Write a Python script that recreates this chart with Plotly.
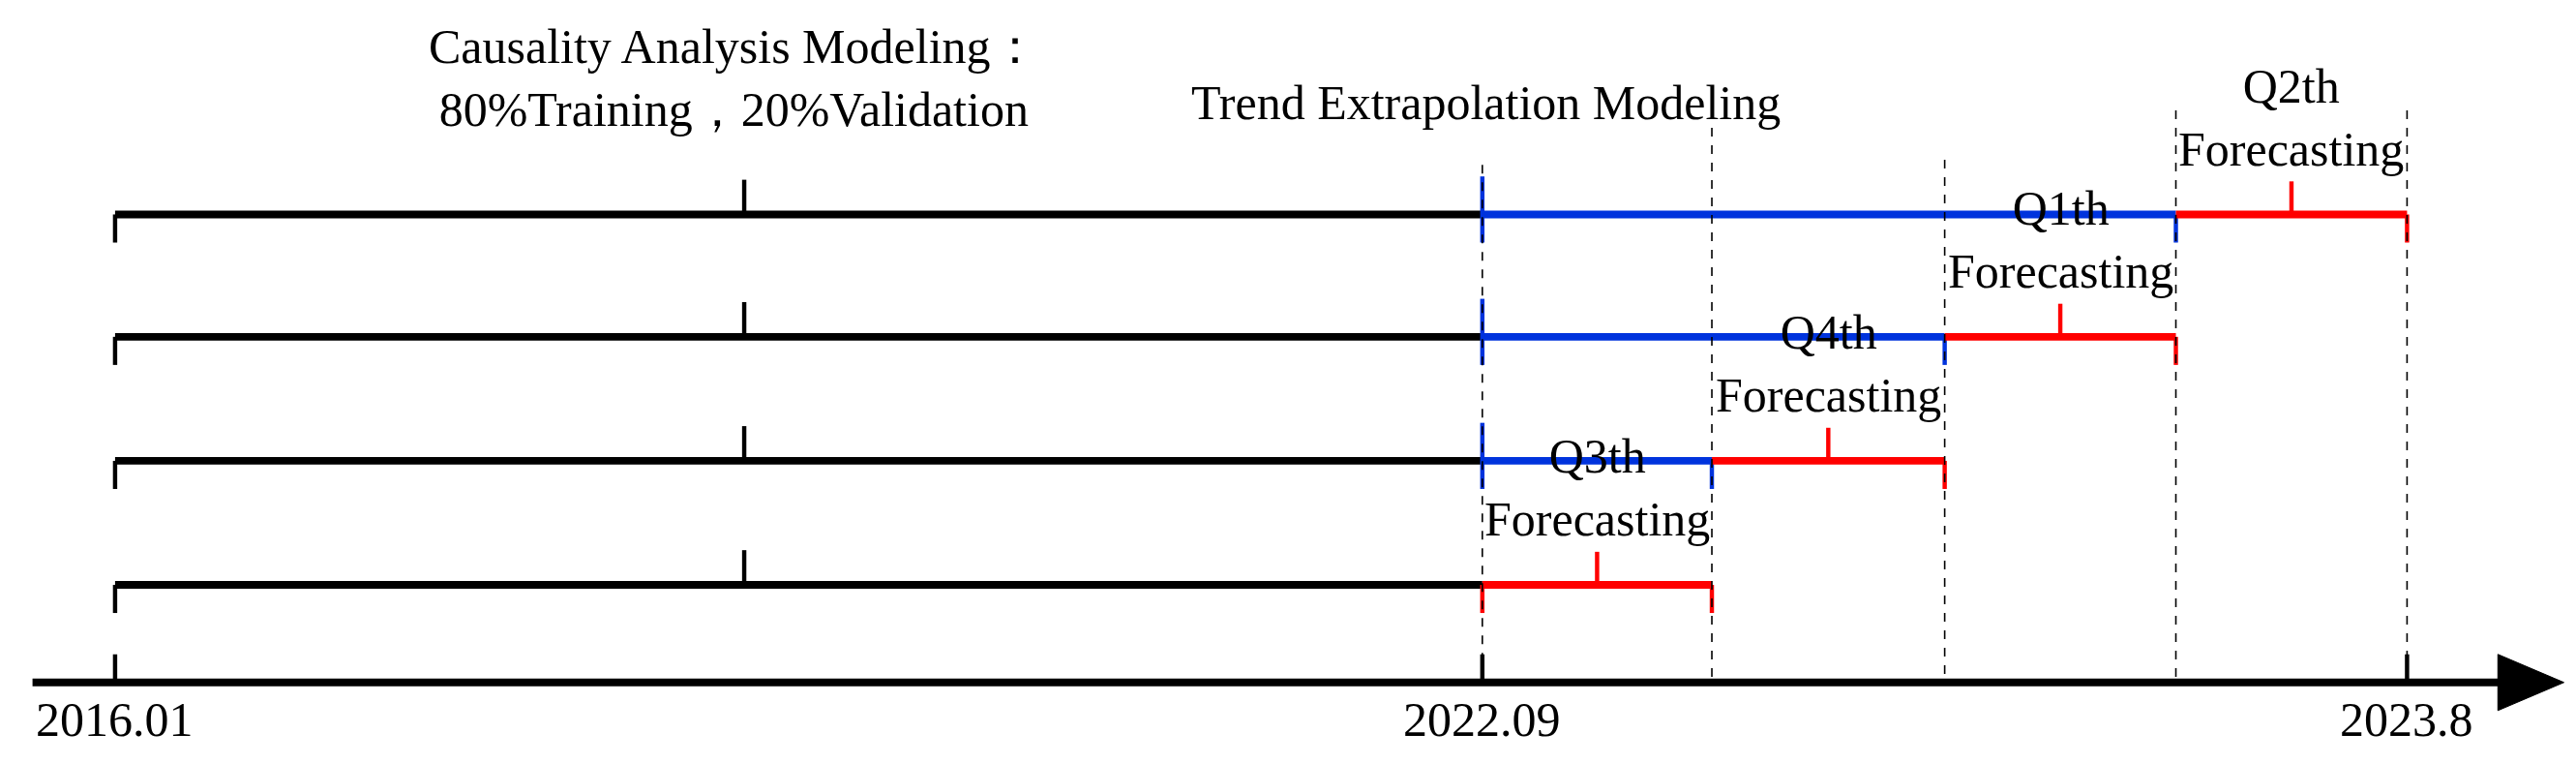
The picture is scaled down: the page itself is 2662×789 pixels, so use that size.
import plotly.graph_objects as go

# positions along the (non-linear) timeline, in drawing units
boundaries = [65, 446, 893, 1032, 1173, 1313, 1453]
row_y = [125, 199, 274, 349]
blue_end = [1313, 1173, 1032, None]
red_span = [(1313, 1453), (1173, 1313), (1032, 1173), (893, 1032)]
labels = ["Q2th", "Q1th", "Q4th", "Q3th"]
axis_ticks = ["2016.01", "2022.09", "2023.8"]
axis_tick_x = [65, 893, 1453]
AXIS_Y = 408

S = 1.706
fig = go.Figure()

def seg(xs, ys, color, width, dash=None):
    fig.add_trace(go.Scatter(x=xs, y=ys, mode="lines", hoverinfo="skip",
                             line=dict(color=color, width=width, dash=dash), showlegend=False))

BLACK, BLUE, RED = "#000000", "#0033dd", "#ff0000"
W = 4.6 * S
TW = 2.6 * S
FS = 50
for i, y in enumerate(row_y):
    seg([boundaries[0], boundaries[2]], [y, y], BLACK, W)
    seg([boundaries[0], boundaries[0]], [y, y + 17], BLACK, TW)
    seg([boundaries[1], boundaries[1]], [y - 21, y], BLACK, TW)
    if blue_end[i] is not None:
        seg([893, blue_end[i]], [y, y], BLUE, W)
        seg([893, 893], [y - 23, y + 17], BLUE, TW)
        seg([blue_end[i], blue_end[i]], [y, y + 17], BLUE, TW)
    a, b = red_span[i]
    seg([a, b], [y, y], RED, W)
    if blue_end[i] is None:
        seg([a, a], [y, y + 17], RED, TW)
    seg([(a + b) / 2, (a + b) / 2], [y - 20, y], RED, TW)
    seg([b, b], [y, y + 17], RED, TW)
    fig.add_annotation(x=(a + b) / 2, y=y - 22, text=labels[i] + "<br>Forecasting",
                       showarrow=False, yanchor="bottom", font=dict(size=FS))

# dashed guides
for x, top in zip(boundaries[2:], [95, 62, 92, 62, 62]):
    seg([x, x], [top, AXIS_Y], BLACK, 1.6, "dash")

# main axis with arrow
seg([15, 1515], [AXIS_Y, AXIS_Y], BLACK, W)
fig.add_trace(go.Scatter(x=[1508, 1548, 1508, 1508], y=[391, AXIS_Y, 425, 391], mode="lines",
                         fill="toself", fillcolor=BLACK, line=dict(color=BLACK, width=1),
                         hoverinfo="skip", showlegend=False))
for x, t in zip(axis_tick_x, axis_ticks):
    seg([x, x], [AXIS_Y - 17, AXIS_Y], BLACK, TW)
    fig.add_annotation(x=x, y=AXIS_Y + 5, text=t, showarrow=False, yanchor="top",
                       font=dict(size=FS))

fig.add_annotation(x=440, y=6, text="Causality Analysis Modeling：<br>80%Training，20%Validation",
                   showarrow=False, yanchor="top", font=dict(size=FS))
fig.add_annotation(x=895, y=40, text="Trend Extrapolation Modeling",
                   showarrow=False, yanchor="top", font=dict(size=FS))

fig.update_layout(width=2662, height=789, margin=dict(l=0, r=0, t=0, b=0),
                  plot_bgcolor="white", paper_bgcolor="white",
                  font=dict(family="Liberation Serif, Times New Roman, serif", color="black"),
                  xaxis=dict(range=[0, 1560], visible=False, fixedrange=True),
                  yaxis=dict(range=[462, 0], visible=False, fixedrange=True))
fig.write_html("out.html")
